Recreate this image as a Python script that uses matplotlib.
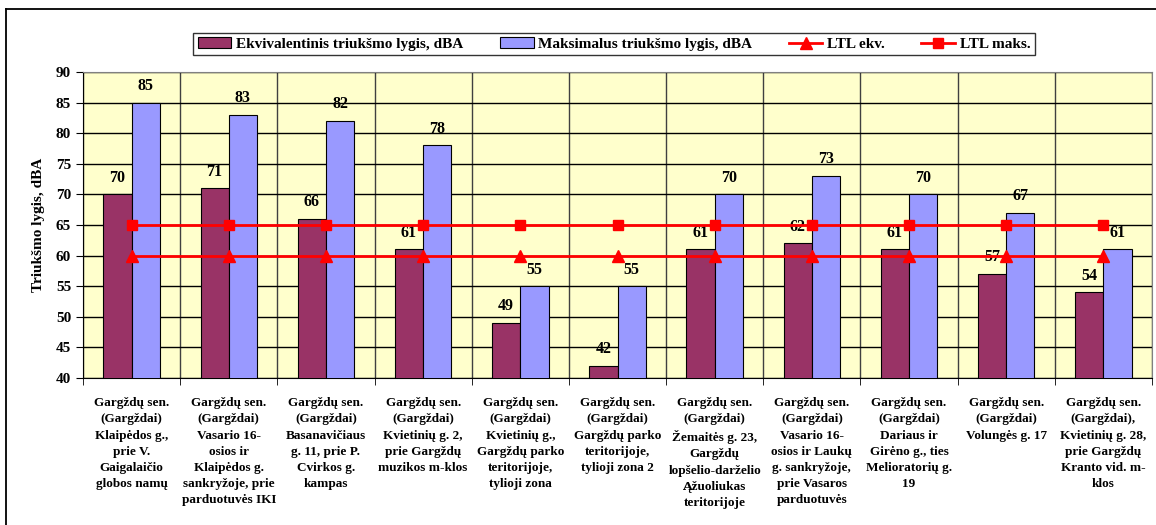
import matplotlib.pyplot as plt
import numpy as np
from matplotlib.lines import Line2D

plt.rcParams['font.family'] = ['Liberation Serif', 'DejaVu Serif']
plt.rcParams['font.weight'] = 'bold'

# Matavimo vietos
vietos = [
    'Gargždų sen.\n(Gargždai)\nKlaipėdos g.,\nprie V.\nGaigalaičio\nglobos namų',
    'Gargždų sen.\n(Gargždai)\nVasario 16-\nosios ir\nKlaipėdos g.\nsankryžoje, prie\nparduotuvės IKI',
    'Gargždų sen.\n(Gargždai)\nBasanavičiaus\ng. 11, prie P.\nCvirkos g.\nkampas',
    'Gargždų sen.\n(Gargždai)\nKvietinių g. 2,\nprie Gargždų\nmuzikos m-klos',
    'Gargždų sen.\n(Gargždai)\nKvietinių g.,\nGargždų parko\nteritorijoje,\ntylioji zona',
    'Gargždų sen.\n(Gargždai)\nGargždų parko\nteritorijoje,\ntylioji zona 2',
    'Gargždų sen.\n(Gargždai)\nŽemaitės g. 23,\nGargždų\nlopšelio-darželio\nĄžuoliukas\nteritorijoje',
    'Gargždų sen.\n(Gargždai)\nVasario 16-\nosios ir Laukų\ng. sankryžoje,\nprie Vasaros\nparduotuvės',
    'Gargždų sen.\n(Gargždai)\nDariaus ir\nGirėno g., ties\nMelioratorių g.\n19',
    'Gargždų sen.\n(Gargždai)\nVolungės g. 17',
    'Gargždų sen.\n(Gargždai),\nKvietinių g. 28,\nprie Gargždų\nKranto vid. m-\nklos',
]
ekvivalentinis = [70, 71, 66, 61, 49, 42, 61, 62, 61, 57, 54]
maksimalus = [85, 83, 82, 78, 55, 55, 70, 73, 70, 67, 61]
ltl_ekv = [60] * 11
ltl_maks = [65] * 11

fig = plt.figure(figsize=(11.56, 5.25), dpi=100)
ax = fig.add_axes([83 / 1156, 1 - 378 / 525, (1152 - 83) / 1156, (378 - 72) / 525])

# remelis aplink
fig.add_artist(Line2D([6 / 1156, 6 / 1156], [0, 1 - 9 / 525], color='black', lw=1.3))
fig.add_artist(Line2D([6 / 1156, 1], [1 - 9 / 525, 1 - 9 / 525], color='black', lw=1.3))

x = np.arange(len(vietos))
w = 0.29
ax.set_facecolor('#FFFFCC')
b1 = ax.bar(x - w / 2, ekvivalentinis, w, color='#993366', edgecolor='black', lw=0.8,
            label='Ekvivalentinis triukšmo lygis, dBA', zorder=3)
b2 = ax.bar(x + w / 2, maksimalus, w, color='#9999FF', edgecolor='black', lw=0.8,
            label='Maksimalus triukšmo lygis, dBA', zorder=3)
l1, = ax.plot(x, ltl_ekv, color='red', lw=2, marker='^', ms=9, label='LTL ekv.', zorder=4)
l2, = ax.plot(x, ltl_maks, color='red', lw=2, marker='s', ms=7, label='LTL maks.', zorder=4)

for xi, v in zip(x, ekvivalentinis):
    ax.text(xi - w / 2, v + 1.4, str(v), ha='center', va='bottom', fontsize=11.5, fontweight='bold')
for xi, v in zip(x, maksimalus):
    ax.text(xi + w / 2, v + 1.4, str(v), ha='center', va='bottom', fontsize=11.5, fontweight='bold')

ax.set_ylim(40, 90)
ax.set_xlim(-0.5, len(vietos) - 0.5)
ax.set_yticks(range(40, 91, 5))
ax.set_xticks(x)
ax.set_xticklabels(vietos, fontsize=9.5, fontweight='bold', linespacing=1.45, va='top')
ax.tick_params(axis='x', length=0, pad=14)
ax.set_xticks(np.arange(-0.5, len(vietos), 1), minor=True)
ax.tick_params(axis='x', which='minor', length=5, direction='out')
ax.tick_params(axis='y', labelsize=11, direction='out', length=5)
for t in ax.get_yticklabels():
    t.set_fontweight('bold')

ax.grid(axis='y', color='black', lw=1, zorder=1)
ax.grid(axis='x', which='minor', color='#404040', lw=1, zorder=1)
ax.set_axisbelow(True)
for s in ['top', 'right']:
    ax.spines[s].set_color('#808080')
ax.spines['left'].set_color('black')
ax.spines['bottom'].set_color('black')

ax.set_ylabel('Triukšmo lygis, dBA', fontsize=11, fontweight='bold', labelpad=8)

leg = fig.legend(handles=[b1, b2, l1, l2], loc='center', bbox_to_anchor=(614 / 1156, 1 - 44 / 525),
                 ncol=4, frameon=True, fancybox=False, edgecolor='black', fontsize=11,
                 handlelength=2.2, handletextpad=0.3, columnspacing=2.4, borderpad=0.3)
leg.get_frame().set_linewidth(1)

fig.savefig('out.png', dpi=100)
